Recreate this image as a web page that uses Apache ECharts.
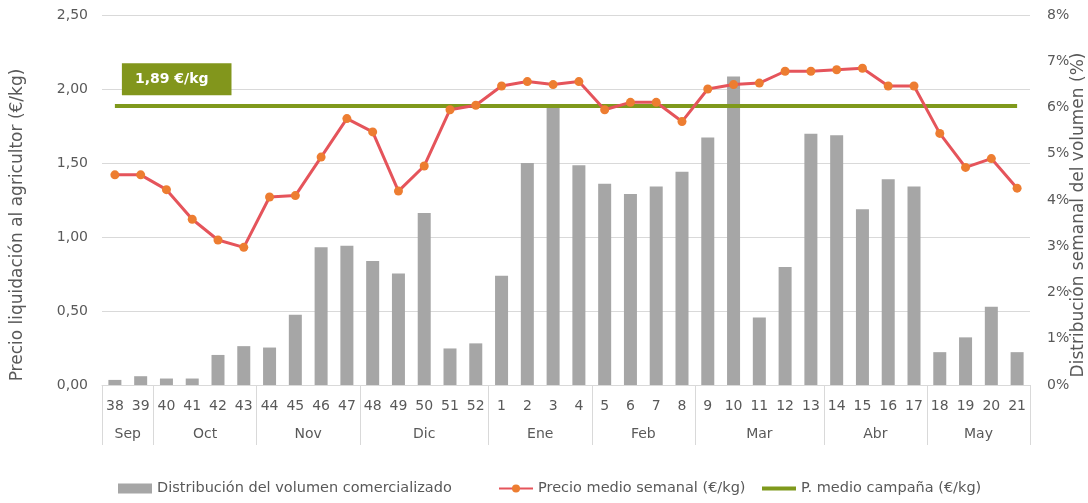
<!DOCTYPE html>
<html>
<head>
<meta charset="utf-8">
<script src="https://cdn.jsdelivr.net/npm/echarts@6/dist/echarts.min.js"></script>
<style>
  html, body { margin: 0; padding: 0; background: #fff; }
</style>
</head>
<body>
<div id="main" style="width:1088px;height:503px;"></div>
<script>
// semanas de la campaña
var weeks = ['38','39','40','41','42','43','44','45','46','47','48','49','50','51','52',
             '1','2','3','4','5','6','7','8','9','10','11','12','13','14','15','16','17','18','19','20','21'];
var months = ['Sep','Oct','Nov','Dic','Ene','Feb','Mar','Abr','May'];
var weeksPerMonth = [2, 4, 4, 5, 4, 4, 5, 4, 4];

// distribución semanal del volumen (%)
var volume = [0.11, 0.19, 0.14, 0.14, 0.65, 0.84, 0.81, 1.52, 2.98, 3.01, 2.68, 2.41, 3.72, 0.79, 0.90,
              2.36, 4.80, 6.05, 4.75, 4.35, 4.13, 4.29, 4.61, 5.35, 6.67, 1.46, 2.55, 5.43, 5.40, 3.80,
              4.45, 4.29, 0.71, 1.03, 1.69, 0.71];
// precio medio semanal (€/kg)
var price = [1.42, 1.42, 1.32, 1.12, 0.98, 0.93, 1.27, 1.28, 1.54, 1.80, 1.71, 1.31, 1.48, 1.86, 1.89,
             2.02, 2.05, 2.03, 2.05, 1.86, 1.91, 1.91, 1.78, 2.00, 2.03, 2.04, 2.12, 2.12, 2.13, 2.14,
             2.02, 2.02, 1.70, 1.47, 1.53, 1.33];
var campaignAvg = 1.89;

var leftTicks = [0, 0.5, 1, 1.5, 2, 2.5];
var rightTicks = [0, 1, 2, 3, 4, 5, 6, 7, 8];

var seriesNames = ['Distribución del volumen comercializado', 'Precio medio semanal (€/kg)', 'P. medio campaña (€/kg)'];

// eje auxiliar de meses: posiciones en medias semanas
var halfSlots = [];
var boundaries = [0];
var pos = 0;
for (var i = 0; i <= weeks.length * 2; i++) halfSlots.push('');
months.forEach(function (m, k) {
  halfSlots[pos + weeksPerMonth[k]] = m;
  pos += weeksPerMonth[k] * 2;
  boundaries.push(pos);
});

var font = 'DejaVu Sans';
var txt = '#595959';

function legendAt(left, name, icon, h) {
  return {
    bottom: 2,
    left: left,
    itemWidth: 34,
    itemHeight: h || 10,
    itemGap: 0,
    textStyle: { color: txt, fontSize: 14.5, fontFamily: font },
    data: [icon ? { name: name, icon: icon } : { name: name }]
  };
}

var myChart = echarts.init(document.getElementById('main'));
var option = {
  animation: false,
  textStyle: { fontFamily: font },
  grid: { left: 102, right: 58, top: 15, bottom: 118, outerBoundsMode: 'none', containLabel: false },
  legend: [
    legendAt(113, seriesNames[0], 'rect'),
    legendAt(493, seriesNames[1]),
    legendAt(757, seriesNames[2], 'rect', 4)
  ],
  xAxis: [
    {
      type: 'category',
      data: weeks,
      axisLine: { lineStyle: { color: '#d9d9d9' } },
      axisTick: { show: false },
      axisLabel: { color: txt, fontSize: 14, margin: 14, interval: 0 },
      splitLine: { show: false }
    },
    {
      type: 'category',
      position: 'bottom',
      boundaryGap: false,
      data: halfSlots,
      axisLine: { show: false },
      axisTick: {
        show: true,
        length: 60,
        interval: function (idx) { return boundaries.indexOf(idx) >= 0; },
        lineStyle: { color: '#d9d9d9' }
      },
      axisLabel: { color: txt, fontSize: 14, margin: 42, interval: 0 },
      splitLine: { show: false }
    }
  ],
  yAxis: [
    {
      type: 'value',
      min: leftTicks[0],
      max: leftTicks[leftTicks.length - 1],
      interval: 0.5,
      name: 'Precio liquidación al agricultor (€/kg)',
      nameLocation: 'middle',
      nameGap: 76,
      nameMoveOverlap: false,
      nameTextStyle: { color: txt, fontSize: 17, padding: [0, 50, 0, 0] },
      axisLine: { show: false },
      axisTick: { show: false },
      axisLabel: {
        color: txt, fontSize: 14, margin: 14,
        formatter: function (v) { return v.toFixed(2).replace('.', ','); }
      },
      splitLine: { lineStyle: { color: '#d9d9d9' } }
    },
    {
      type: 'value',
      min: rightTicks[0],
      max: rightTicks[rightTicks.length - 1],
      interval: 1,
      name: 'Distribución semanal del volumen (%)',
      nameLocation: 'middle',
      nameGap: 40,
      nameMoveOverlap: false,
      nameRotate: 90,
      nameTextStyle: { color: txt, fontSize: 17, padding: [0, 30, 0, 0] },
      axisLine: { show: false },
      axisTick: { show: false },
      axisLabel: { color: txt, fontSize: 14, margin: 17, formatter: '{value}%' },
      splitLine: { show: false }
    }
  ],
  series: [
    {
      name: seriesNames[0],
      type: 'bar',
      yAxisIndex: 1,
      barWidth: 13,
      itemStyle: { color: '#a6a6a6' },
      data: volume,
      z: 1
    },
    {
      name: seriesNames[2],
      type: 'line',
      yAxisIndex: 0,
      data: [],
      symbol: 'none',
      itemStyle: { color: '#7f991c' },
      lineStyle: { color: '#7f991c', width: 4 },
      markLine: {
        silent: true,
        symbol: 'none',
        lineStyle: { color: '#7f991c', width: 4, type: 'solid' },
        label: {
          show: true,
          position: 'insideStartTop',
          distance: [7, 10],
          formatter: function () { return campaignAvg.toFixed(2).replace('.', ',') + ' €/kg'; },
          color: '#fff',
          fontWeight: 'bold',
          fontSize: 14,
          fontFamily: font,
          backgroundColor: '#82961c',
          padding: [9, 23, 9, 13]
        },
        data: [[
          { xAxis: weeks[0], yAxis: campaignAvg },
          { xAxis: weeks[weeks.length - 1], yAxis: campaignAvg }
        ]],
        z: 3
      },
      z: 3
    },
    {
      name: seriesNames[1],
      type: 'line',
      yAxisIndex: 0,
      data: price,
      symbol: 'circle',
      symbolSize: 9,
      itemStyle: { color: '#ed7d31' },
      lineStyle: { color: '#e5545b', width: 3 },
      z: 4
    }
  ]
};
myChart.setOption(option);
</script>
</body>
</html>
